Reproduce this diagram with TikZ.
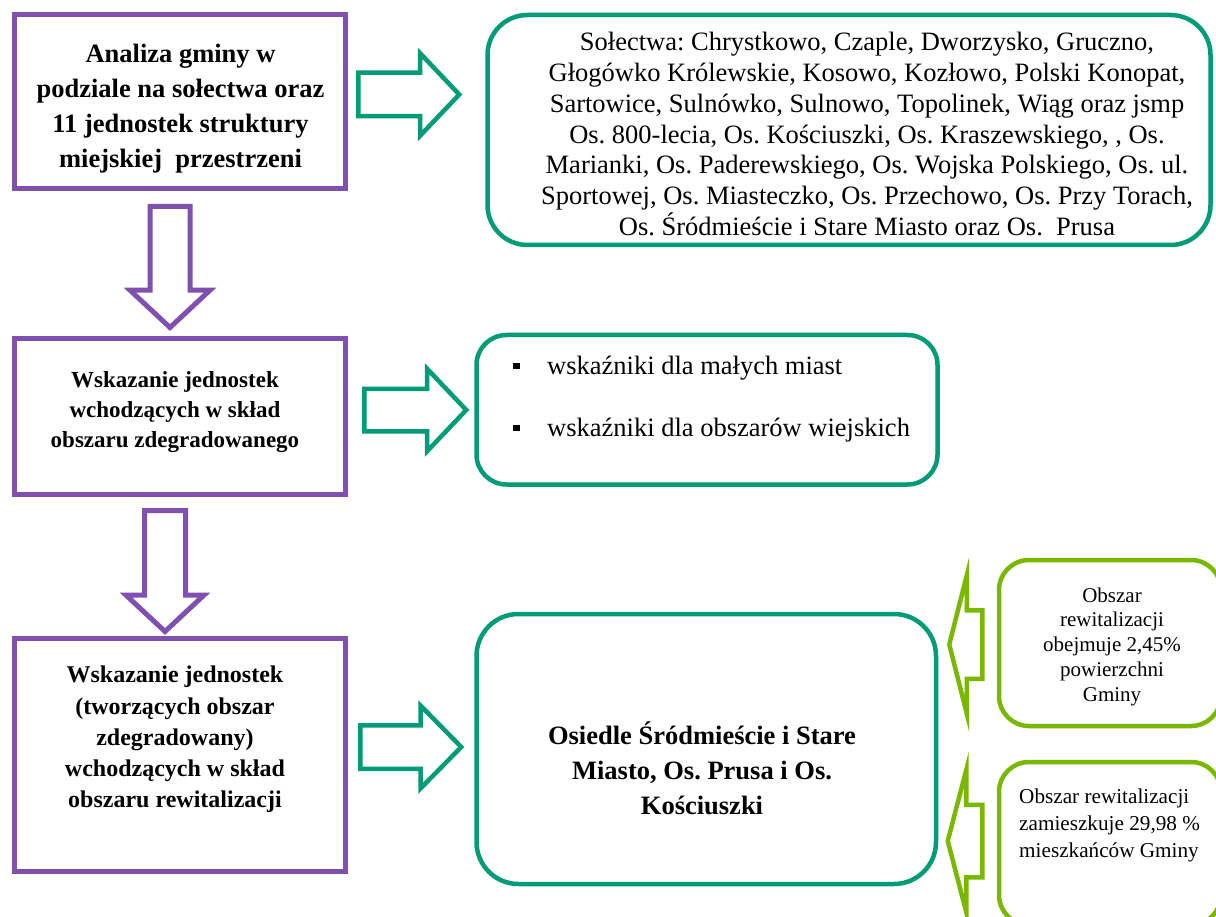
\documentclass[tikz,border=0pt]{standalone}
\usepackage{fontspec}
\setmainfont{Liberation Serif}
\usetikzlibrary{shapes.arrows}
\definecolor{purp}{RGB}{128,80,176}
\definecolor{tealg}{RGB}{0,155,119}
\definecolor{limeg}{RGB}{122,184,0}
\newcommand\mybul{\raisebox{5.3pt}{\rule{6.5pt}{6.5pt}}\hspace{27.5pt}}
\begin{document}
\frenchspacing
\begin{tikzpicture}[x=1pt,y=-1pt,
  pbox/.style={draw=purp, line width=5pt, inner sep=0pt},
  gbox/.style={draw=tealg, line width=4.5pt, inner sep=0pt, rounded corners=#1},
  lbox/.style={draw=limeg, line width=4.5pt, inner sep=0pt, rounded corners=30pt},
  txt/.style={inner sep=0pt, align=center},
  blk/.style={single arrow, draw, fill=white, inner xsep=0pt, anchor=tail, line join=miter},
  garr/.style={blk, draw=tealg, line width=4.5pt},
  parr/.style={blk, draw=purp, line width=5pt, rotate=-90},
  larr/.style={blk, draw=limeg, line width=4.5pt, rotate=180}
]
\useasboundingbox (0,0) rectangle (1216,917);
\fill[white] (0,0) rectangle (1216,917);

% purple boxes
\node[pbox, minimum width=331pt, minimum height=174.5pt] (b1) at (180,101.75) {};
\node[pbox, minimum width=330.8pt, minimum height=155.3pt] (b2) at (179.9,416.65) {};
\node[pbox, minimum width=330.8pt, minimum height=232.5pt] (b3) at (179.9,754.75) {};

\node[txt, font=\fontsize{26.5}{35}\selectfont\bfseries] (t1) at (180.5,109)
  {Analiza gminy w\\podziale na sołectwa oraz\\11 jednostek struktury\\miejskiej\ \ przestrzeni};
\node[txt, font=\fontsize{23}{30}\selectfont\bfseries] (t2) at (175,412)
  {Wskazanie jednostek\\wchodzących w skład\\obszaru zdegradowanego};
\node[txt, font=\fontsize{24}{31.25}\selectfont\bfseries] (t3) at (175,739.5)
  {Wskazanie jednostek\\(tworzących obszar\\zdegradowany)\\wchodzących w skład\\obszaru rewitalizacji};

% teal boxes
\node[gbox=40pt, minimum width=723pt, minimum height=230pt] (g1) at (849,130) {};
\node[gbox=30pt, minimum width=461pt, minimum height=149.5pt] (g2) at (707,409.75) {};
\node[gbox=42pt, minimum width=459.5pt, minimum height=270pt] (g3) at (706.25,749) {};

\node[txt, font=\fontsize{26.5}{30.8}\selectfont] (t4) at (867,134)
  {Sołectwa: Chrystkowo, Czaple, Dworzysko, Gruczno,\\Głogówko Królewskie, Kosowo, Kozłowo, Polski Konopat,\\Sartowice, Sulnówko, Sulnowo, Topolinek, Wiąg oraz jsmp\\Os. 800-lecia, Os. Kościuszki, Os. Kraszewskiego, , Os.\\Marianki, Os. Paderewskiego, Os. Wojska Polskiego, Os. ul.\\Sportowej, Os. Miasteczko, Os. Przechowo, Os. Przy Torach,\\Os. Śródmieście i Stare Miasto oraz Os.\ \ Prusa};
\node[inner sep=0pt, align=left, anchor=north west, font=\fontsize{26.5}{62}\selectfont] (t5) at (513,356)
  {\mybul wskaźniki dla małych miast\\\mybul wskaźniki dla obszarów wiejskich};
\node[txt, font=\fontsize{26.5}{35}\selectfont\bfseries] (t6) at (702,768.5)
  {Osiedle Śródmieście i Stare\\Miasto, Os. Prusa i Os.\\Kościuszki};

% light green boxes
\node[lbox, minimum width=222pt, minimum height=166pt] (l1) at (1110,643) {};
\node[lbox, minimum width=222pt, minimum height=163pt] (l2) at (1110,843.5) {};
\node[txt, font=\fontsize{21}{24.75}\selectfont] (t7) at (1112,646.7)
  {Obszar\\rewitalizacji\\obejmuje 2,45\%\\powierzchni\\Gminy};
\node[inner sep=0pt, align=left, anchor=north west, font=\fontsize{21.2}{27}\selectfont] (t8) at (1019,788.5)
  {Obszar rewitalizacji\\zamieszkuje 29,98 \%\\mieszkańców Gminy};

% block arrows
\node[garr, inner ysep=19.5pt, single arrow head extend=19.5pt, minimum width=78pt, minimum height=101pt, single arrow tip angle=93] (a1) at (356,94.5) {};
\node[garr, inner ysep=19pt, single arrow head extend=20pt, minimum width=78pt, minimum height=102pt, single arrow tip angle=93] (a2) at (362,410) {};
\node[garr, inner ysep=19.5pt, single arrow head extend=19.5pt, minimum width=78pt, minimum height=101pt, single arrow tip angle=91] (a3) at (358,747) {};
\node[parr, inner ysep=17.5pt, single arrow head extend=20pt, minimum width=75pt, minimum height=121pt, single arrow tip angle=94] (d1) at (170,204) {};
\node[parr, inner ysep=18pt, single arrow head extend=18.5pt, minimum width=73pt, minimum height=121pt, single arrow tip angle=94] (d2) at (165,508) {};
\node[larr, inner ysep=32pt, single arrow head extend=35pt, minimum width=134pt, minimum height=33pt, single arrow tip angle=151.5] (la) at (984.5,644.5) {};
\node[larr, inner ysep=34pt, single arrow head extend=35pt, minimum width=138pt, minimum height=34.5pt, single arrow tip angle=150.8] (lb) at (984.5,841) {};
\end{tikzpicture}
\end{document}
